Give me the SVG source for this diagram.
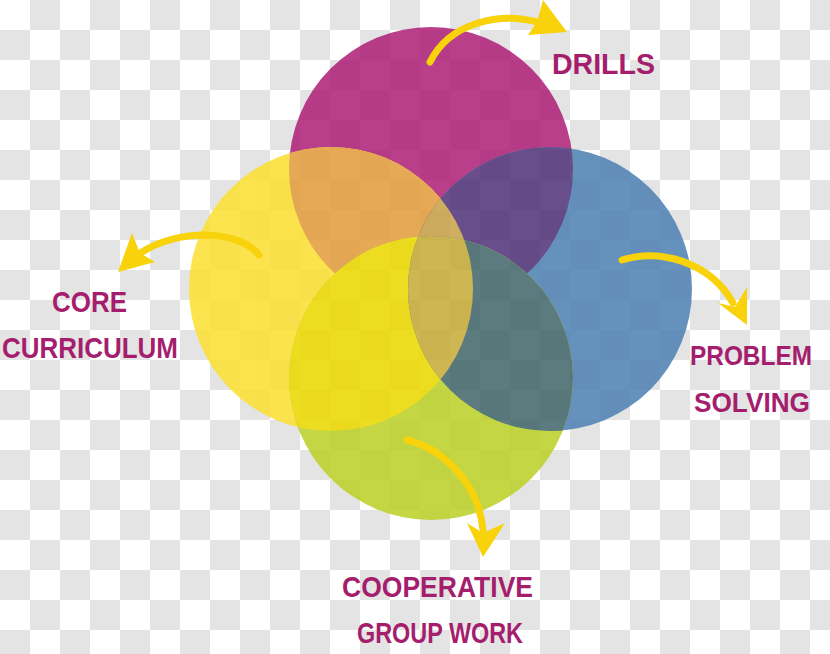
<svg xmlns="http://www.w3.org/2000/svg" width="830" height="654" viewBox="0 0 830 654">
  <defs>
    <pattern id="checker" patternUnits="userSpaceOnUse" x="0" y="0" width="60" height="60">
      <rect width="60" height="60" fill="#ffffff"/>
      <rect x="30" y="0" width="30" height="30" fill="#e4e4e4"/>
      <rect x="0" y="30" width="30" height="30" fill="#e4e4e4"/>
    </pattern>
    <clipPath id="cM"><circle cx="431" cy="169" r="142"/></clipPath>
    <clipPath id="cY"><circle cx="331" cy="289" r="142"/></clipPath>
    <clipPath id="cB"><circle cx="550" cy="289" r="142"/></clipPath>
    <clipPath id="cG"><circle cx="431" cy="378" r="142"/></clipPath>
    <style>
      .lbl { font-family: "Liberation Sans", Arial, sans-serif; font-weight: bold; font-size: 30px; fill: #a51e6e; text-anchor: middle; }
      .sm { font-size: 28px; }
      .arr { fill: none; stroke: #f8d30c; stroke-width: 7; stroke-linecap: round; }
      .head { fill: #f8d30c; }
    </style>
  </defs>

  <rect width="830" height="654" fill="url(#checker)"/>

  <g id="venn" opacity="0.87">
    <g id="circle-drills"><circle cx="431" cy="169" r="142" fill="#b0237a"/></g>
    <g id="circle-core"><circle cx="331" cy="289" r="142" fill="#fce034"/></g>
    <g id="circle-problem"><circle cx="550" cy="289" r="142" fill="#4f82b3"/></g>
    <g id="overlaps-top">
      <g clip-path="url(#cM)"><circle cx="331" cy="289" r="142" fill="#e39e3f"/></g>
      <g clip-path="url(#cM)"><circle cx="550" cy="289" r="142" fill="#52347a"/></g>
      <g clip-path="url(#cM)"><g clip-path="url(#cY)"><circle cx="550" cy="289" r="142" fill="#c9a24a"/></g></g>
    </g>
    <g id="circle-cooperative"><circle cx="431" cy="378" r="142" fill="#bcd128"/></g>
    <g id="overlaps-bottom">
      <g clip-path="url(#cG)"><circle cx="331" cy="289" r="142" fill="#ebd800"/></g>
      <g clip-path="url(#cG)"><circle cx="550" cy="289" r="142" fill="#44686c"/></g>
      <g clip-path="url(#cG)"><g clip-path="url(#cY)"><circle cx="550" cy="289" r="142" fill="#c7ac3a"/></g></g>
    </g>
  </g>

  <g id="connectors">
    <path class="arr" d="M430,62 C450,22 500,12 537,22"/>
    <polygon class="head" points="543,0 567,32 528,35 537,22"/>
    <path class="arr" d="M259,255 C240,230 180,228 142,252"/>
    <polygon class="head" points="132,233 140,253 155,262 118,272"/>
    <path class="arr" d="M622,260 C660,248 710,262 733,303"/>
    <polygon class="head" points="747,287 735,307 718,303 747,325"/>
    <path class="arr" d="M407,440 C440,448 478,480 483,530"/>
    <polygon class="head" points="467,523 483,533 505,523 483,557"/>
  </g>

  <g id="label-drills"><text class="lbl" x="603.5" y="74" textLength="103" lengthAdjust="spacingAndGlyphs">DRILLS</text></g>
  <g id="label-core"><text class="lbl" x="89.5" y="312" textLength="75" lengthAdjust="spacingAndGlyphs">CORE</text><text class="lbl" x="90" y="358" textLength="176" lengthAdjust="spacingAndGlyphs">CURRICULUM</text></g>
  <g id="label-problem"><text class="lbl sm" x="751" y="365" textLength="122" lengthAdjust="spacingAndGlyphs">PROBLEM</text><text class="lbl sm" x="752" y="412" textLength="116" lengthAdjust="spacingAndGlyphs">SOLVING</text></g>
  <g id="label-cooperative"><text class="lbl" x="437.5" y="597" textLength="191" lengthAdjust="spacingAndGlyphs">COOPERATIVE</text><text class="lbl" x="440" y="643" textLength="166" lengthAdjust="spacingAndGlyphs">GROUP WORK</text></g>
</svg>
